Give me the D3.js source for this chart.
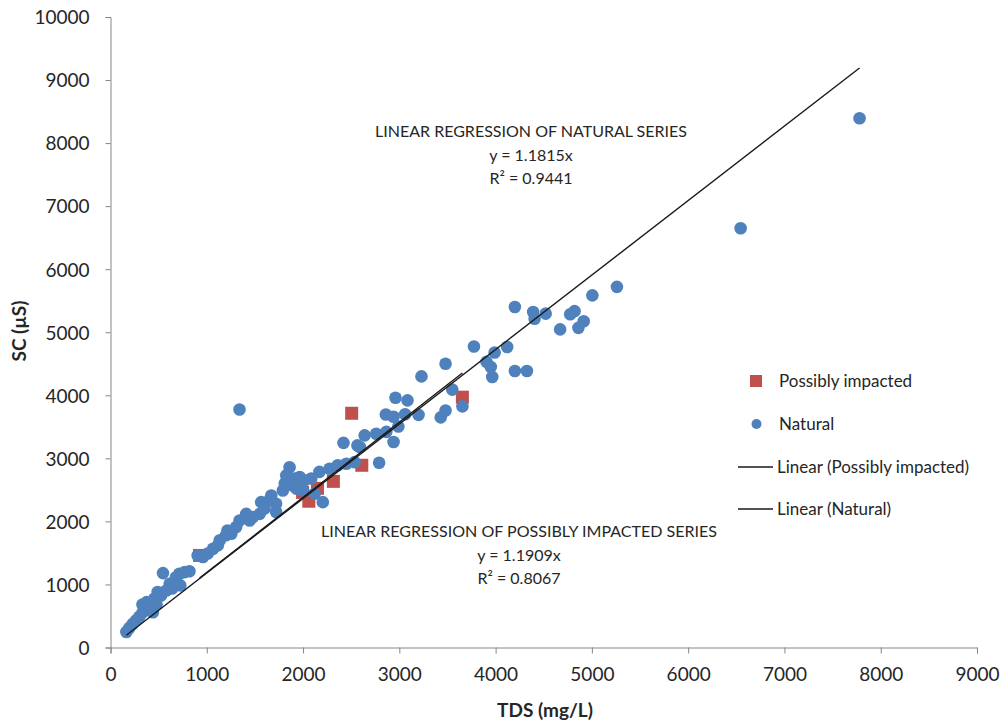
<!DOCTYPE html>
<html>
<head>
<meta charset="utf-8">
<script src="https://cdn.jsdelivr.net/npm/d3@7"></script>
<style>
  body{margin:0;background:#fff;}
  text{font-family:Lato,"Open Sans",sans-serif;fill:#262626;}
</style>
</head>
<body>
<svg id="chart" width="1003" height="724"></svg>
<script>
// 数据：自然水样 (TDS mg/L, SC µS)
var naturalTds = [165,195,230,265,300,335,370,375,405,440,455,490,525,580,545,615,665,680,715,770,820,905,960,1010,1065,1115,
    478,332,640,725,
    1135,1200,1255,1305,1340,1410,1480,1550,1565,1650,1670,1720,1720,1790,1825,1860,1895,1965,2000,1215,1445,1600,
    1825,1810,1910,2015,2085,2170,2275,2360,2450,2535,2120,2205,1930,
    2420,2565,2640,2760,2865,2940,2790,2590,
    2960,3085,2860,2940,3060,3200,2990,3230,3480,3775,3990,4120,3905,3950,3965,4200,4325,3550,3655,3480,3430,
    4200,4390,4405,4520,4775,4820,4915,4860,4670,5005,5260,6545,7780,1340];
var naturalSc = [245,310,375,430,490,560,640,720,665,560,775,880,825,905,1180,1010,1035,1115,1170,1195,1210,1460,1435,1490,1565,1620,
    683,683,935,985,
    1700,1780,1805,1910,2015,2120,2070,2120,2305,2335,2410,2280,2150,2490,2625,2860,2570,2705,2490,1855,2015,2205,
    2730,2600,2680,2650,2680,2785,2835,2890,2915,2940,2440,2305,2520,
    3245,3205,3365,3390,3420,3260,2930,3180,
    3960,3920,3695,3660,3700,3690,3505,4300,4500,4775,4680,4765,4530,4450,4290,4385,4385,4090,3825,3760,3650,
    5400,5320,5215,5295,5285,5335,5175,5070,5045,5585,5720,6650,8395,3775];

// 可能受影响的水样
var impactedTds = [925,1995,2060,2150,2315,2610,2505,3655];
var impactedSc = [1460,2460,2320,2525,2635,2890,3715,3970];

// 回归系数（过原点）
var naturalSlope = 1.1815;
var impactedSlope = 1.1909;

var xTicks = [0,1000,2000,3000,4000,5000,6000,7000,8000,9000];
var yTicks = [0,1000,2000,3000,4000,5000,6000,7000,8000,9000,10000];

var legendNames = ["Possibly impacted","Natural","Linear (Possibly impacted)","Linear (Natural)"];
var naturalNote = ["LINEAR REGRESSION OF NATURAL SERIES","y = 1.1815x","R\u00B2 = 0.9441"];
var impactedNote = ["LINEAR REGRESSION OF POSSIBLY IMPACTED SERIES","y = 1.1909x","R\u00B2 = 0.8067"];

var blue = "#4f81bd";
var red = "#c0504d";
var axisColor = "#868686";

var svg = d3.select("#chart");

var x = d3.scaleLinear().domain([0,9000]).range([110.5,977]);
var y = d3.scaleLinear().domain([0,10000]).range([647.5,17]);

// 坐标轴
var xAxis = d3.axisBottom(x).tickValues(xTicks).tickSize(6).tickPadding(14).tickFormat(d3.format("d"));
var yAxis = d3.axisLeft(y).tickValues(yTicks).tickSize(5).tickPadding(16).tickFormat(d3.format("d"));

var gx = svg.append("g").attr("transform","translate(0,"+y(0)+")").call(xAxis);
var gy = svg.append("g").attr("transform","translate("+x(0)+",0)").call(yAxis);

[gx,gy].forEach(function(g){
    g.select(".domain").attr("stroke",axisColor);
    g.selectAll(".tick line").attr("stroke",axisColor);
    g.selectAll(".tick text")
        .attr("fill","#262626")
        .style("font-family","Lato, sans-serif")
        .style("font-size","19px");
});
gy.selectAll(".tick text").attr("dy","0.36em");

// 轴标题
svg.append("text")
    .attr("x",545).attr("y",717)
    .attr("text-anchor","middle")
    .style("font-size","19px").style("font-weight","bold")
    .text("TDS (mg/L)");

svg.append("text")
    .attr("transform","translate(26,331) rotate(-90)")
    .attr("text-anchor","middle")
    .style("font-size","19px").style("font-weight","bold")
    .text("SC (\u00B5S)");

// 先画受影响的方块，再画自然的圆点
var impacted = impactedTds.map(function(d,i){ return {tds:d, sc:impactedSc[i]}; });
var natural = naturalTds.map(function(d,i){ return {tds:d, sc:naturalSc[i]}; });

svg.append("g").selectAll("rect")
    .data(impacted)
    .enter()
    .append("rect")
    .attr("x",function(d){ return x(d.tds)-6.5; })
    .attr("y",function(d){ return y(d.sc)-6.5; })
    .attr("width",13)
    .attr("height",13)
    .attr("fill",red);

svg.append("g").selectAll("circle")
    .data(natural)
    .enter()
    .append("circle")
    .attr("cx",function(d){ return x(d.tds); })
    .attr("cy",function(d){ return y(d.sc); })
    .attr("r",6.3)
    .attr("fill",blue);

// 趋势线：从系列的最小x画到最大x
function trend(xs,slope){
    var lo = d3.min(xs), hi = d3.max(xs);
    svg.append("line")
        .attr("x1",x(lo)).attr("y1",y(lo*slope))
        .attr("x2",x(hi)).attr("y2",y(hi*slope))
        .attr("stroke","#1a1a1a")
        .attr("stroke-width",1.4);
}
trend(impactedTds,impactedSlope);
trend(naturalTds,naturalSlope);

// 注释文字
function note(lines,cx,y0,w){
    lines.forEach(function(t,i){
        var tx = svg.append("text")
            .attr("x",cx).attr("y",y0+i*23.5)
            .attr("text-anchor","middle")
            .style("font-size","16px")
            .text(t);
        if(i==0){
            tx.attr("textLength",w).attr("lengthAdjust","spacingAndGlyphs");
        }
    });
}
note(naturalNote,531,137,312);
note(impactedNote,519,537,396);

// 图例
var lg = svg.append("g");
var legendY = [381,424,467,509];

lg.append("rect").attr("x",750).attr("y",legendY[0]-6).attr("width",12).attr("height",12).attr("fill",red);
lg.append("circle").attr("cx",756.5).attr("cy",legendY[1]).attr("r",5).attr("fill",blue);
[2,3].forEach(function(i){
    lg.append("line")
        .attr("x1",738).attr("x2",773)
        .attr("y1",legendY[i]).attr("y2",legendY[i])
        .attr("stroke","#1a1a1a").attr("stroke-width",1.4);
});

lg.selectAll("text.lab")
    .data(legendNames)
    .enter()
    .append("text")
    .attr("class","lab")
    .attr("x",function(d,i){ return i<2 ? 779 : 777; })
    .attr("y",function(d,i){ return legendY[i]+6; })
    .style("font-size","17px")
    .text(function(d){ return d; });
</script>
</body>
</html>
